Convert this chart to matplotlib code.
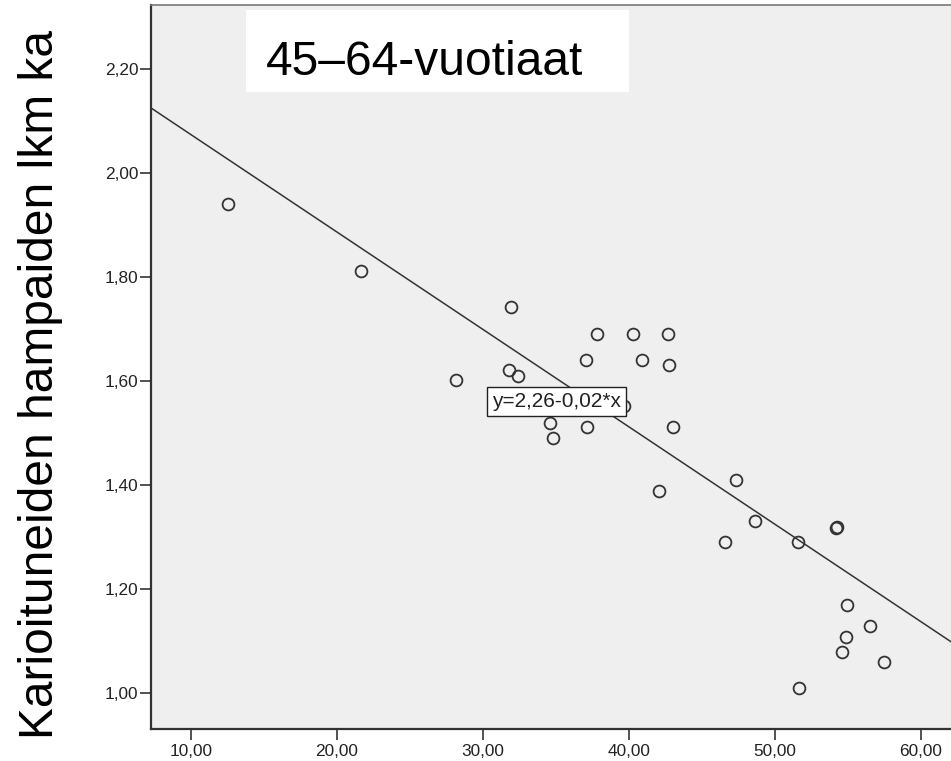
import matplotlib
matplotlib.use("Agg")
import matplotlib.pyplot as plt
from matplotlib.patches import Rectangle
import numpy as np

# Data
x_values = [12.51, 21.67, 28.15, 31.90, 31.80, 32.42, 37.79, 40.25, 42.65,
            37.05, 40.89, 42.76, 39.66, 34.59, 34.82, 37.10, 43.03, 42.05,
            47.33, 48.65, 46.58, 51.58, 54.20, 54.28, 54.97, 56.50, 54.86,
            54.60, 57.47, 51.66, 39.45]
y_values = [1.940, 1.811, 1.601, 1.742, 1.621, 1.610, 1.690, 1.690, 1.690,
            1.640, 1.640, 1.630, 1.552, 1.520, 1.490, 1.511, 1.511, 1.389,
            1.410, 1.330, 1.290, 1.290, 1.318, 1.320, 1.170, 1.129, 1.108,
            1.079, 1.059, 1.009, 2.222]

# Fit line as drawn (y = 2,26 - 0,02*x)
intercept = 2.261
slope = -0.01873

x_ticks = [10, 20, 30, 40, 50, 60]
y_ticks = [1.0, 1.2, 1.4, 1.6, 1.8, 2.0, 2.2]

title_text = "45–64-vuotiaat"
ylabel_text = "Karioituneiden hampaiden lkm ka"
equation_text = "y=2,26-0,02*x"

plt.rcParams["font.family"] = ["Liberation Sans", "DejaVu Sans"]

fig = plt.figure(figsize=(9.51, 7.61), dpi=100)
fig.patch.set_facecolor("white")

xmin, xmax = 7.26, 63.5
ymin, ymax = 0.9308, 2.323
ax = fig.add_axes([151 / 951, 32 / 761, 821 / 951, 724 / 761])
ax.set_facecolor("#efefef")
ax.set_xlim(xmin, xmax)
ax.set_ylim(ymin, ymax)

# Regression line
line_x = np.array([xmin, xmax])
ax.plot(line_x, intercept + slope * line_x, color="#333333", lw=1.1, zorder=2)

# Points
ax.plot(x_values, y_values, linestyle="none", marker="o", markersize=8.5,
        markerfacecolor="none", markeredgecolor="#333333", markeredgewidth=1.3,
        zorder=3)

# Ticks
ax.set_xticks(x_ticks)
ax.set_yticks(y_ticks)
ax.set_xticklabels([f"{v:.2f}".replace(".", ",") for v in x_ticks])
ax.set_yticklabels([f"{v:.2f}".replace(".", ",") for v in y_ticks])
ax.tick_params(direction="out", length=8, width=1.2, color="#333333",
               labelsize=12.4, labelcolor="#222222")
ax.tick_params(axis="y", pad=1)
ax.tick_params(axis="x", pad=3)

for side in ["left", "bottom"]:
    ax.spines[side].set_color("#333333")
    ax.spines[side].set_linewidth(1.6)
ax.spines["top"].set_color("#777777")
ax.spines["top"].set_linewidth(1.2)
ax.spines["right"].set_visible(False)

# Title box
ax.add_patch(Rectangle((0.1157, 0.8798), 0.4665, 0.1133, transform=ax.transAxes,
                       facecolor="white", edgecolor="none", zorder=5))
ax.text(0.1401, 0.9033, title_text, transform=ax.transAxes, fontsize=34.5,
        ha="left", va="baseline", color="black", zorder=6)

# Equation label
ax.text(35.04, 1.5606, equation_text, fontsize=15, ha="center", va="center",
        color="#222222", zorder=6,
        bbox=dict(boxstyle="square,pad=0.25", facecolor="white",
                  edgecolor="#222222", linewidth=1.0))

# Y label
fig.text(0.043, 0.495, ylabel_text, rotation=90, fontsize=34.5,
         ha="center", va="center", color="black")

fig.savefig("out.png", dpi=100)
